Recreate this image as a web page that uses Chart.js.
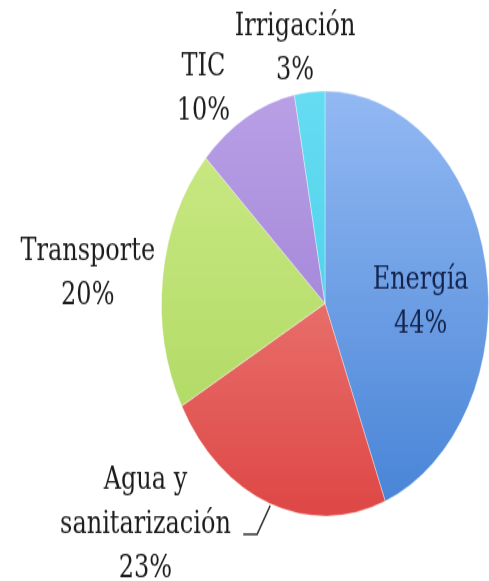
<!DOCTYPE html>
<html>
<head>
<meta charset="utf-8">
<script src="https://cdn.jsdelivr.net/npm/chart.js@4"></script>
<style>
    html, body { margin: 0; padding: 0; background: #fff; }
    body { width: 489px; height: 581px; overflow: hidden; }
    #wrap { width: 489px; height: 447px; transform: scaleY(1.3); transform-origin: 0 0; }
</style>
</head>
<body>
<div id="wrap"><canvas id="pieChart" width="489" height="447"></canvas></div>
<script>
const categories = ["Energía", "Agua y sanitarización", "Transporte", "TIC", "Irrigación"];
const labelLines = [["Energía", "44%"], ["Agua y", "sanitarización", "23%"], ["Transporte", "20%"], ["TIC", "10%"], ["Irrigación", "3%"]];
const shares = [44, 23, 20, 10, 3];

// top / bottom colour of each slice gradient
const topColors = ["#93b9f3", "#f29490", "#cdeb88", "#b9a0e6", "#66dcf2"];
const bottomColors = ["#4683d6", "#de4745", "#aad65c", "#9574d0", "#3ccbe6"];

// label anchors, as fractions of the radius from the centre
const labelPos = [
    { fx: 0.585, fy: -0.006, color: "#14244c" },
    { fx: -1.098, fy: 1.04, color: "#1c1c1c" },
    { fx: -1.451, fy: -0.14, color: "#1c1c1c" },
    { fx: -0.744, fy: -1.006, color: "#1c1c1c" },
    { fx: -0.183, fy: -1.198, color: "#1c1c1c" }
];
const leader = [[-0.5, 1.085], [-0.415, 1.085], [-0.335, 0.951]];

function sliceGradient(ctx) {
    const chart = ctx.chart;
    const area = chart.chartArea;
    const i = ctx.dataIndex;
    if (!area) return topColors[i];
    const g = chart.ctx.createLinearGradient(0, area.top, 0, area.bottom);
    g.addColorStop(0, topColors[i]);
    g.addColorStop(1, bottomColors[i]);
    return g;
}

const pieLabels = {
    id: "pieLabels",
    afterDatasetsDraw(chart) {
        const ctx = chart.ctx;
        const arcs = chart.getDatasetMeta(0).data;
        const cx = arcs[0].x, cy = arcs[0].y, r = arcs[0].outerRadius;
        const lh = 34;
        ctx.save();
        ctx.font = "24px 'DejaVu Serif'";
        ctx.textAlign = "center";
        ctx.textBaseline = "middle";
        labelLines.forEach((lines, i) => {
            const p = labelPos[i];
            const x = cx + p.fx * r;
            const y = cy + p.fy * r;
            ctx.fillStyle = p.color;
            lines.forEach((t, k) => {
                ctx.fillText(t, x, y + (k - (lines.length - 1) / 2) * lh);
            });
        });
        ctx.strokeStyle = "#333";
        ctx.lineWidth = 1.5;
        ctx.beginPath();
        leader.forEach(([fx, fy], k) => {
            const x = cx + fx * r, y = cy + fy * r;
            if (k === 0) ctx.moveTo(x, y); else ctx.lineTo(x, y);
        });
        ctx.stroke();
        ctx.restore();
    }
};

new Chart(document.getElementById("pieChart"), {
    type: "pie",
    data: {
        labels: categories,
        datasets: [{
            data: shares,
            backgroundColor: sliceGradient,
            borderColor: "rgba(255,255,255,0.35)",
            borderWidth: 1
        }]
    },
    options: {
        responsive: false,
        animation: false,
        layout: { padding: { top: 69, bottom: 49, left: 161, right: 0 } },
        plugins: {
            legend: { display: false },
            tooltip: { enabled: false }
        }
    },
    plugins: [pieLabels]
});
</script>
</body>
</html>
